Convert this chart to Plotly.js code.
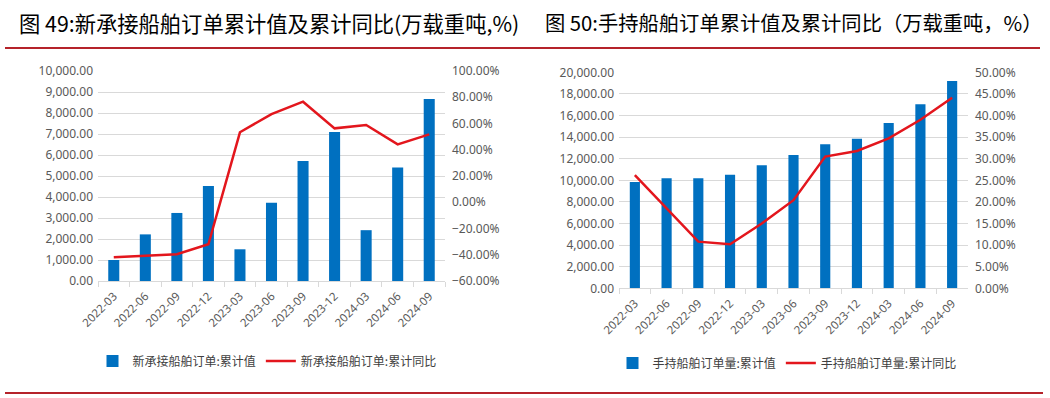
<!DOCTYPE html>
<html>
<head>
<meta charset="utf-8">
<script src="https://cdn.plot.ly/plotly-3.0.1.min.js"></script>
<style>html,body{margin:0;padding:0;background:#fff;}#chart{width:1050px;height:398px;}</style>
</head>
<body>
<div id="chart"></div>
<script>
const categories = ['2022-03','2022-06','2022-09','2022-12','2023-03','2023-06','2023-09','2023-12','2024-03','2024-06','2024-09'];
// 图49 新承接船舶订单 (万载重吨, %)
const newOrderValue = [1000, 2220, 3240, 4520, 1510, 3730, 5710, 7100, 2420, 5400, 8670];
const newOrderYoY = [-41.9, -40.6, -39.6, -32.0, 53.3, 67.2, 76.6, 56.3, 58.9, 44.1, 51.7];
// 图50 手持船舶订单 (万载重吨, %)
const handValue = [9850, 10190, 10190, 10520, 11390, 12340, 13330, 13850, 15310, 17040, 19190];
const handYoY = [26.2, 18.5, 10.8, 10.2, 15.0, 20.4, 30.5, 31.8, 34.7, 39.0, 44.1];

const title1 = '图 49:新承接船舶订单累计值及累计同比(万载重吨,%)';
const title2 = '图 50:手持船舶订单累计值及累计同比（万载重吨，%）';
const names = ['新承接船舶订单:累计值','新承接船舶订单:累计同比','手持船舶订单量:累计值','手持船舶订单量:累计同比'];

const W = 1050, H = 398;
const px = x => x / W;
const py = y => 1 - y / H;
const BLUE = '#0070C0', RED = '#E3161D', GRID = '#D9D9D9', TXT = '#595959';
const FONT = 'Noto Sans, DejaVu Sans, sans-serif';
const CJK = 'Noto Sans CJK SC, sans-serif';

const traces = [
  {type:'bar', x:categories, y:newOrderValue, name:names[0], marker:{color:BLUE}, width:0.35, xaxis:'x', yaxis:'y', legend:'legend'},
  {type:'scatter', mode:'lines', x:categories, y:newOrderYoY, name:names[1], line:{color:RED, width:2.5}, xaxis:'x', yaxis:'y2', legend:'legend'},
  {type:'bar', x:categories, y:handValue, name:names[2], marker:{color:BLUE}, width:0.32, xaxis:'x2', yaxis:'y3', legend:'legend2'},
  {type:'scatter', mode:'lines', x:categories, y:handYoY, name:names[3], line:{color:RED, width:2.5}, xaxis:'x2', yaxis:'y4', legend:'legend2'}
];

const xCommon = {type:'category', tickangle:-45, tickson:'boundaries', ticks:'outside', ticklen:5, tickcolor:GRID,
  showline:true, linecolor:GRID, linewidth:1, showgrid:false, zeroline:false, ticklabelstandoff:3,
  tickfont:{family:FONT, size:11.5, color:TXT}, fixedrange:true};
const yLeft = {showgrid:true, gridcolor:GRID, gridwidth:1, zeroline:false, showline:false, ticks:'', tickformat:',.2f',
  ticklabelstandoff:4, tickfont:{family:FONT, size:12, color:TXT}, fixedrange:true};
const yRight = {showgrid:false, zeroline:false, showline:false, ticks:'', tickformat:'.2f', ticksuffix:'%', side:'right',
  ticklabelstandoff:6, tickfont:{family:FONT, size:12, color:TXT}, fixedrange:true};

const layout = {
  width:W, height:H, margin:{l:0, r:0, t:0, b:0}, paper_bgcolor:'#fff', plot_bgcolor:'rgba(0,0,0,0)',
  xaxis: Object.assign({}, xCommon, {domain:[px(98), px(445)], anchor:'y'}),
  yaxis: Object.assign({}, yLeft, {domain:[py(281), py(71)], anchor:'x', range:[0,10000], dtick:1000}),
  yaxis2: Object.assign({}, yRight, {overlaying:'y', anchor:'x', range:[-60,100], dtick:20}),
  xaxis2: Object.assign({}, xCommon, {domain:[px(619), px(968)], anchor:'y3'}),
  yaxis3: Object.assign({}, yLeft, {domain:[py(288.3), py(72.3)], anchor:'x2', range:[0,20000], dtick:2000}),
  yaxis4: Object.assign({}, yRight, {overlaying:'y3', anchor:'x2', range:[0,50], dtick:5}),
  showlegend:true,
  legend:{orientation:'h', x:px(267), xanchor:'center', y:py(361), yanchor:'middle', bgcolor:'rgba(0,0,0,0)',
    font:{family:CJK, size:12, color:'#404040'}, itemwidth:30, tracegroupgap:0},
  legend2:{orientation:'h', x:px(787), xanchor:'center', y:py(363), yanchor:'middle', bgcolor:'rgba(0,0,0,0)',
    font:{family:CJK, size:12, color:'#404040'}, itemwidth:30, tracegroupgap:0},
  annotations:[
    {text:title1, xref:'paper', yref:'paper', x:px(17), y:py(22), xanchor:'left', yanchor:'middle', showarrow:false,
      font:{family:CJK, size:21.3, color:'#000'}},
    {text:title2, xref:'paper', yref:'paper', x:px(543), y:py(22), xanchor:'left', yanchor:'middle', showarrow:false,
      font:{family:CJK, size:20.3, color:'#000'}}
  ],
  shapes:[
    {type:'line', xref:'paper', yref:'paper', x0:px(5), x1:px(1040), y0:py(48), y1:py(48), line:{color:'#B5232A', width:2}},
    {type:'line', xref:'paper', yref:'paper', x0:px(5), x1:px(1043), y0:py(393), y1:py(393), line:{color:'#B5232A', width:2}}
  ]
};

Plotly.newPlot('chart', traces, layout, {displayModeBar:false, staticPlot:true});
</script>
</body>
</html>
